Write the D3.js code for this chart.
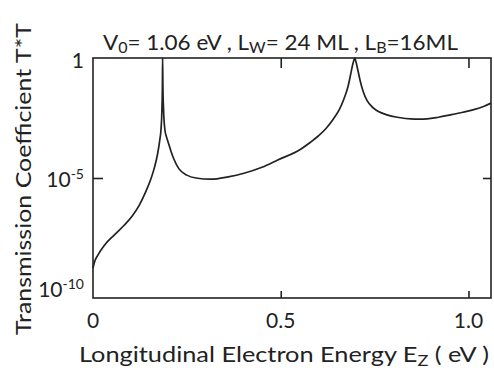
<!DOCTYPE html>
<html><head><meta charset="utf-8">
<script src="https://cdn.jsdelivr.net/npm/d3@7"></script>
<style>body{margin:0;background:#fff}svg{display:block}text{font-family:Lato,"Open Sans",sans-serif;fill:#222}</style>
</head><body><svg id="c" width="494" height="370"></svg>
<script>
// Energy (eV) and log10 of transmission coefficient T*T
const energy = [0,0.003,0.013,0.031,0.057,0.083,0.105,0.123,0.14,0.155,0.163,0.172,0.178,0.181,0.1835,0.1848,0.1854,0.1862,0.188,0.1915,0.196,0.2,0.207,0.215,0.229,0.25,0.274,0.314,0.36,0.402,0.45,0.492,0.553,0.58,0.6,0.62,0.642,0.656,0.668,0.679,0.687,0.692,0.695,0.697,0.699,0.701,0.7056,0.712,0.72,0.73,0.748,0.783,0.815,0.846,0.87,0.89,0.92,0.952,0.985,1.014,1.04,1.06];
const logT   = [-8.76,-8.55,-8.21,-7.79,-7.37,-6.97,-6.57,-6.14,-5.59,-5.0,-4.6,-4.0,-3.4,-3.0,-2.2,-1.2,0,-1.2,-2.2,-3.0,-3.3,-3.5,-3.85,-4.2,-4.62,-4.88,-5.0,-5.05,-4.95,-4.8,-4.55,-4.25,-3.8,-3.5,-3.25,-2.95,-2.5,-2.15,-1.72,-1.2,-0.62,-0.25,-0.08,0,-0.08,-0.2,-0.52,-0.98,-1.42,-1.78,-2.1,-2.37,-2.48,-2.54,-2.55,-2.54,-2.47,-2.37,-2.26,-2.15,-2.02,-1.88];
const xTicks = [0, 0.5, 1.0];
const xTickLabels = ["0", "0.5", "1.0"];
const yTicks = [1, 1e-5, 1e-10];
const yTickBase = ["1", "10", "10"];
const yTickExp = ["", "-5", "-10"];

const svg = d3.select("#c");
const L = 93, R = 491, T = 58, B = 298;
const x = d3.scaleLinear().domain([0, 1.06]).range([L, R]);
const y = d3.scaleLog().domain([1e-10, 1]).range([B, T]);

const data = energy.map((e, i) => ({e, t: Math.pow(10, logT[i])}));

// axes with inward ticks
const gB = svg.append("g").attr("transform", `translate(0,${B})`)
  .call(d3.axisBottom(x).tickValues([0.5, 1.0]).tickSize(-7).tickSizeOuter(0).tickFormat(""));
const gT = svg.append("g").attr("transform", `translate(0,${T})`)
  .call(d3.axisTop(x).tickValues([0.5, 1.0]).tickSize(-10).tickSizeOuter(0).tickFormat(""));
const gL = svg.append("g").attr("transform", `translate(${L},0)`)
  .call(d3.axisLeft(y).tickValues([1e-5]).tickSize(-10).tickSizeOuter(0).tickFormat(""));
const gR = svg.append("g").attr("transform", `translate(${R},0)`)
  .call(d3.axisRight(y).tickValues([1e-5]).tickSize(-8).tickSizeOuter(0).tickFormat(""));
[gB, gT, gL, gR].forEach(g => {
  g.select(".domain").remove();
  g.selectAll("line").attr("stroke", "#222").attr("stroke-width", 1.6);
});
svg.append("rect").attr("x", L).attr("y", T).attr("width", R - L).attr("height", B - T)
  .attr("fill", "none").attr("stroke", "#222").attr("stroke-width", 1.6);

// curve
svg.append("path").datum(data)
  .attr("fill", "none").attr("stroke", "#222").attr("stroke-width", 1.7)
  .attr("d", d3.line().x(d => x(d.e)).y(d => y(d.t)).curve(d3.curveMonotoneX));

// x tick labels
svg.append("g").selectAll("text").data(xTicks).join("text")
  .attr("x", d => x(d)).attr("y", 328).attr("text-anchor", "middle")
  .attr("font-size", 21).text((d, i) => xTickLabels[i]);

// y tick labels
const yOff = [10, 9, -1];
yTicks.forEach((v, i) => {
  const t = svg.append("text").attr("x", 84).attr("y", y(v) + yOff[i])
    .attr("text-anchor", "end").attr("font-size", 21);
  t.append("tspan").text(yTickBase[i]);
  if (yTickExp[i]) t.append("tspan").attr("dy", -8).attr("font-size", 14).text(yTickExp[i]);
});

// title
const title = svg.append("text").attr("x", 103).attr("y", 50).attr("font-size", 21)
  .attr("textLength", 355).attr("lengthAdjust", "spacingAndGlyphs");
title.append("tspan").text("V");
title.append("tspan").attr("font-size", 15).attr("dy", 3).text("0");
title.append("tspan").attr("dy", -3).text("= 1.06 eV ,  L");
title.append("tspan").attr("font-size", 15).attr("dy", 3).text("W");
title.append("tspan").attr("dy", -3).text("= 24 ML ,  L");
title.append("tspan").attr("font-size", 15).attr("dy", 3).text("B");
title.append("tspan").attr("dy", -3).text("=16ML");

// x label
const xl = svg.append("text").attr("x", 79).attr("y", 362).attr("font-size", 21)
  .attr("textLength", 410).attr("lengthAdjust", "spacingAndGlyphs");
xl.append("tspan").text("Longitudinal Electron Energy  E");
xl.append("tspan").attr("font-size", 15).attr("dy", 4).text("Z");
xl.append("tspan").attr("dy", -4).text(" ( eV )");

// y label
svg.append("text").attr("transform", "translate(31,335) rotate(-90)")
  .attr("font-size", 21).attr("textLength", 312).attr("lengthAdjust", "spacingAndGlyphs")
  .text("Transmission Coefficient  T*T");
</script></body></html>
